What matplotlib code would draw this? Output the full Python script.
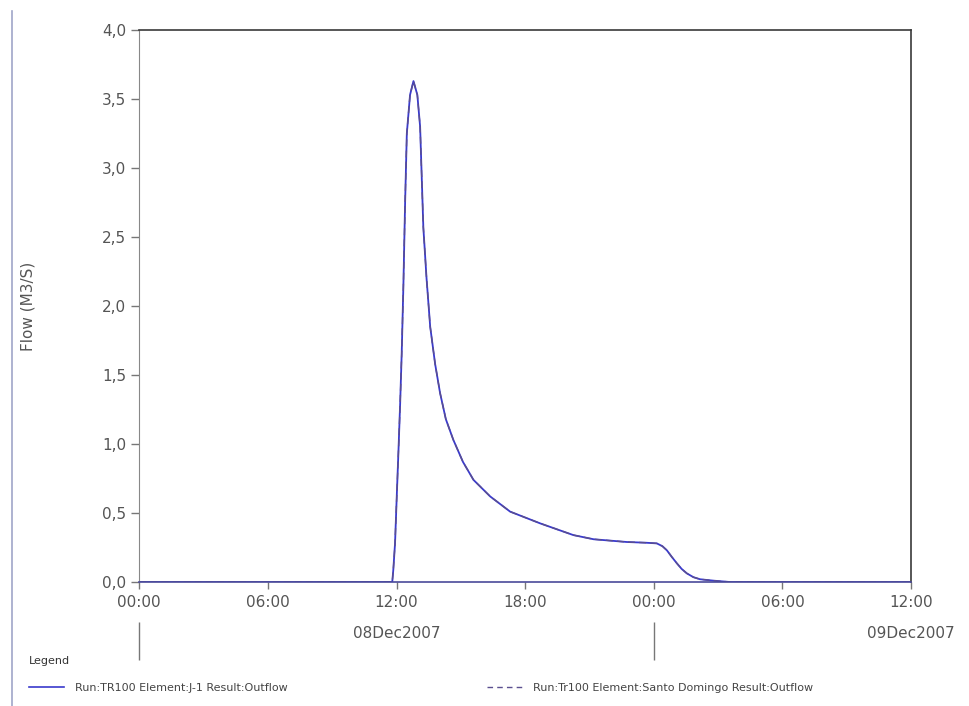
import matplotlib.pyplot as plt
from matplotlib.lines import Line2D
from matplotlib.ticker import FixedLocator, FuncFormatter

# hours since 00:00 08Dec2007
hours = [0, 11.80, 11.85, 11.93, 12.01, 12.09, 12.17, 12.24, 12.32, 12.40, 12.48,
         12.63, 12.79, 12.97, 13.10, 13.25, 13.40, 13.57, 13.80, 14.03, 14.30,
         14.65, 15.10, 15.59, 16.37, 17.30, 18.70, 20.25, 21.19, 22.74, 23.60,
         24.14, 24.40, 24.61, 24.85, 25.08, 25.30, 25.54, 25.85, 26.16, 26.78,
         27.56, 36]
flow = [0, 0, 0.09, 0.28, 0.62, 0.95, 1.30, 1.65, 2.15, 2.75, 3.25,
        3.53, 3.63, 3.53, 3.30, 2.57, 2.20, 1.85, 1.58, 1.37, 1.18,
        1.03, 0.87, 0.74, 0.62, 0.51, 0.425, 0.34, 0.31, 0.29, 0.285,
        0.28, 0.26, 0.23, 0.18, 0.135, 0.095, 0.063, 0.035, 0.02, 0.01,
        0, 0]

time_ticks = [0, 6, 12, 18, 24, 30, 36]
time_labels = ["00:00", "06:00", "12:00", "18:00", "00:00", "06:00", "12:00"]
day_ticks = [0, 24]
day_label_pos = [12, 36]
day_labels = ["08Dec2007", "09Dec2007"]
y_ticks = [0, 0.5, 1.0, 1.5, 2.0, 2.5, 3.0, 3.5, 4.0]

series_names = ["Run:TR100 Element:J-1 Result:Outflow",
                "Run:Tr100 Element:Santo Domingo Result:Outflow"]

txt = "#555555"
fig = plt.figure(figsize=(9.7, 7.06), dpi=100)
ax = fig.add_axes([0.1436, 0.1756, 0.7956, 0.7819])

ax.plot(hours, flow, color="#3a3acc", lw=1.3, solid_capstyle="butt")
ax.plot(hours, flow, color="#5b4f8f", lw=1.0, ls=(0, (5, 3)))

ax.set_xlim(0, 36)
ax.set_ylim(0, 4.0)
ax.set_xticks(time_ticks)
ax.set_xticklabels(time_labels)
ax.set_yticks(y_ticks)
ax.yaxis.set_major_formatter(FuncFormatter(lambda v, p: f"{v:.1f}".replace(".", ",")))
ax.tick_params(axis="both", colors="#777777", labelcolor=txt, labelsize=11,
               length=6, width=1.0)
ax.tick_params(axis="x", length=5, pad=4)

for s in ["top", "right"]:
    ax.spines[s].set_color("#3a3a3a")
    ax.spines[s].set_linewidth(1.2)
ax.spines["left"].set_color("#888888")
ax.spines["bottom"].set_color("#4a4a9a")
ax.spines["bottom"].set_linewidth(1.2)

ax.set_ylabel("Flow (M3/S)", color=txt, fontsize=11, labelpad=48)

# date axis below the time axis
sec = ax.secondary_xaxis(-0.072)
sec.spines["bottom"].set_visible(False)
sec.xaxis.set_major_locator(FixedLocator(day_ticks))
sec.xaxis.set_major_formatter(FuncFormatter(lambda v, p: ""))
sec.xaxis.set_minor_locator(FixedLocator(day_label_pos))
sec.xaxis.set_minor_formatter(FuncFormatter(
    lambda v, p: day_labels[day_label_pos.index(v)] if v in day_label_pos else ""))
sec.tick_params(axis="x", which="major", length=27, width=1.0, colors="#777777")
sec.tick_params(axis="x", which="minor", length=0, pad=3, labelsize=11,
                labelcolor=txt)

# frame line on the left edge
fig.add_artist(Line2D([0.0124, 0.0124], [0.0, 0.985], color="#9fa6c8", lw=1.2))

handles = [Line2D([], [], color="#3a3acc", lw=1.2),
           Line2D([], [], color="#5b4f8f", lw=1.0, ls=(0, (4, 3)))]
leg = fig.legend(handles, series_names, loc="lower left",
                 bbox_to_anchor=(0.022, 0.008), ncol=2, frameon=False,
                 title="Legend", alignment="left", fontsize=8,
                 title_fontproperties={"size": 8}, handlelength=3.1,
                 handletextpad=1.0, columnspacing=18.0, borderaxespad=0.3,
                 labelspacing=0.3)
leg._legend_box.sep = 12
for t in leg.get_texts():
    t.set_color("#444444")
leg.get_title().set_color("#333333")

fig.savefig("out.png", dpi=100)
